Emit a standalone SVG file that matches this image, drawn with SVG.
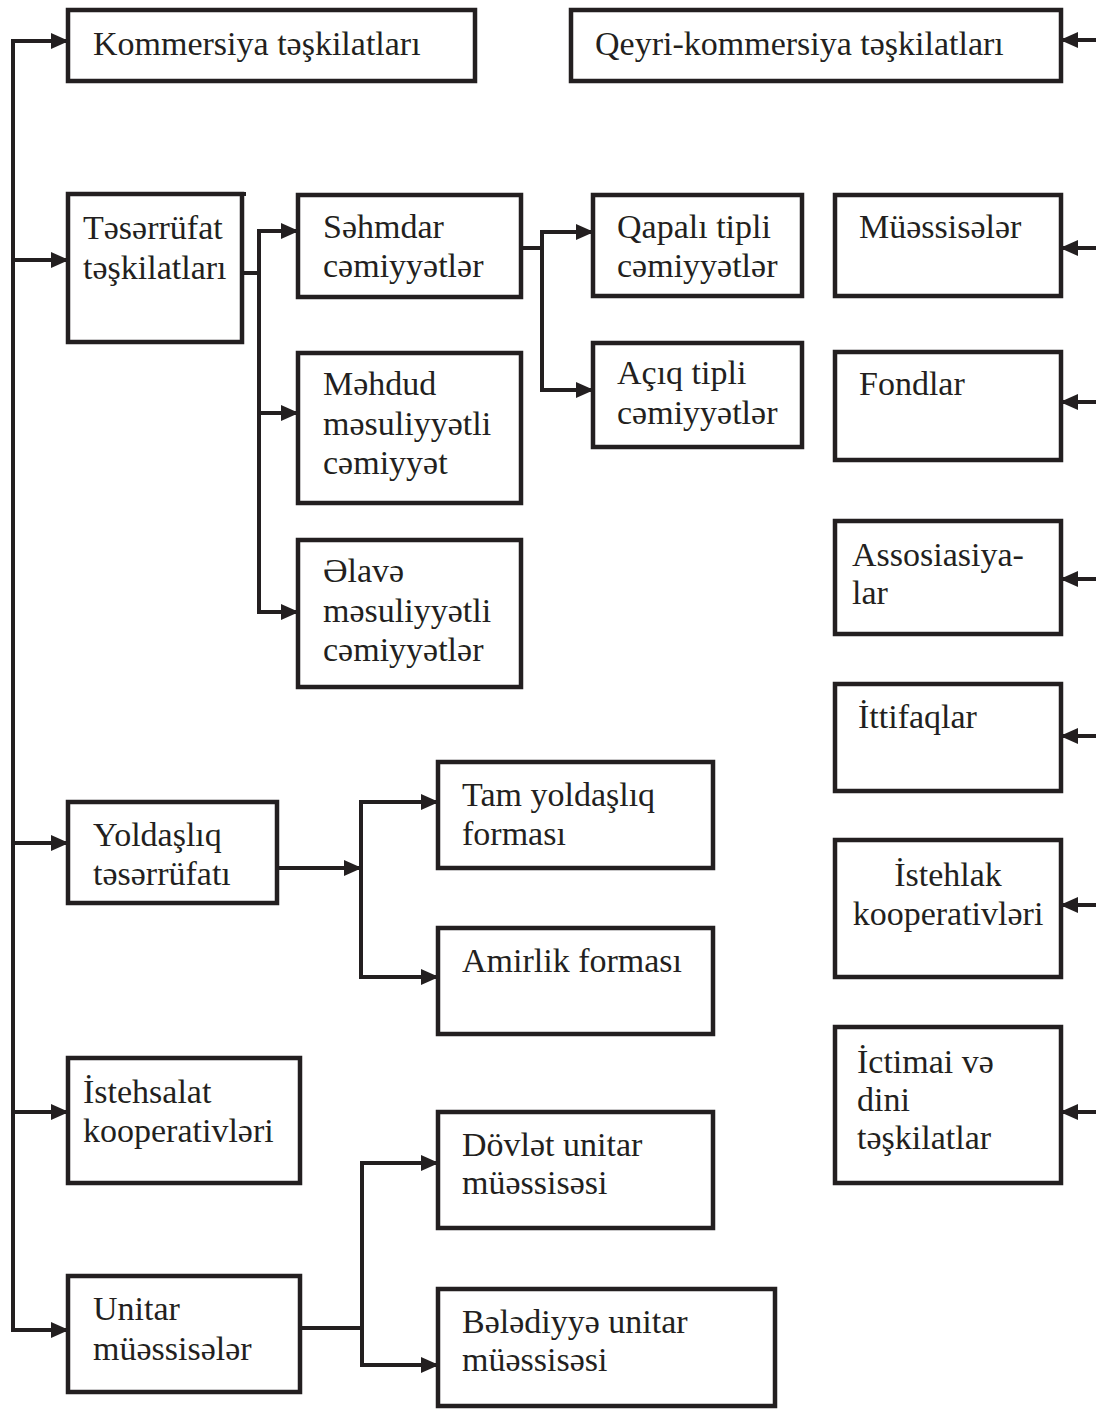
<svg xmlns="http://www.w3.org/2000/svg" width="1096" height="1409" viewBox="0 0 1096 1409">
<defs>
<style>
.box{fill:#fff;stroke:#231f20;stroke-width:4.5}
.ln{fill:none;stroke:#231f20;stroke-width:4}
.t{font-family:"Liberation Serif","Times New Roman",serif;font-size:34px;fill:#231f20}
.c{text-anchor:middle}
</style>
<marker id="ah" markerUnits="userSpaceOnUse" markerWidth="18" markerHeight="16" refX="17" refY="8" orient="auto" viewBox="0 0 18 16">
<path d="M0,0 L18,8 L0,16 z" fill="#231f20"/>
</marker>
</defs>
<rect width="1096" height="1409" fill="#fff"/>
<g id="connectors">
<path class="ln" d="M13,41 V1330"/>
<path class="ln" d="M11,41 H68" marker-end="url(#ah)"/>
<path class="ln" d="M13,260 H68" marker-end="url(#ah)"/>
<path class="ln" d="M13,843 H68" marker-end="url(#ah)"/>
<path class="ln" d="M13,1112 H68" marker-end="url(#ah)"/>
<path class="ln" d="M11,1330 H68" marker-end="url(#ah)"/>
<path class="ln" d="M242,273 H259"/>
<path class="ln" d="M259,231 V612"/>
<path class="ln" d="M257,231 H298" marker-end="url(#ah)"/>
<path class="ln" d="M259,413 H298" marker-end="url(#ah)"/>
<path class="ln" d="M257,612 H298" marker-end="url(#ah)"/>
<path class="ln" d="M521,248 H542"/>
<path class="ln" d="M542,232 V390"/>
<path class="ln" d="M540,232 H593" marker-end="url(#ah)"/>
<path class="ln" d="M540,390 H593" marker-end="url(#ah)"/>
<path class="ln" d="M277,868 H361" marker-end="url(#ah)"/>
<path class="ln" d="M361,802 V977"/>
<path class="ln" d="M359,802 H438" marker-end="url(#ah)"/>
<path class="ln" d="M359,977 H438" marker-end="url(#ah)"/>
<path class="ln" d="M300,1328 H362"/>
<path class="ln" d="M362,1163 V1365"/>
<path class="ln" d="M360,1163 H438" marker-end="url(#ah)"/>
<path class="ln" d="M360,1365 H438" marker-end="url(#ah)"/>
<path class="ln" d="M1096,40 H1061" marker-end="url(#ah)"/>
<path class="ln" d="M1096,248 H1061" marker-end="url(#ah)"/>
<path class="ln" d="M1096,402 H1061" marker-end="url(#ah)"/>
<path class="ln" d="M1096,579 H1061" marker-end="url(#ah)"/>
<path class="ln" d="M1096,736 H1061" marker-end="url(#ah)"/>
<path class="ln" d="M1096,905 H1061" marker-end="url(#ah)"/>
<path class="ln" d="M1096,1112 H1061" marker-end="url(#ah)"/>
</g>
<g id="kommersiya"><rect class="box" x="68" y="10" width="407" height="71"/><text class="t" x="93" y="55">Kommersiya təşkilatları</text></g>
<g id="qeyri-kommersiya"><rect class="box" x="571" y="10" width="490" height="71"/><text class="t" x="595" y="55">Qeyri-kommersiya təşkilatları</text></g>
<g id="tesərrufat"><rect class="box" x="68" y="194" width="174" height="148"/><path class="ln" d="M240,194 H246"/><text class="t" x="83" y="239">Təsərrüfat</text><text class="t" x="83" y="279">təşkilatları</text></g>
<g id="sehmdar"><rect class="box" x="298" y="195" width="223" height="102"/><text class="t" x="323" y="238">Səhmdar</text><text class="t" x="323" y="277">cəmiyyətlər</text></g>
<g id="mehdud"><rect class="box" x="298" y="353" width="223" height="150"/><text class="t" x="323" y="395">Məhdud</text><text class="t" x="323" y="435">məsuliyyətli</text><text class="t" x="323" y="474">cəmiyyət</text></g>
<g id="elave"><rect class="box" x="298" y="540" width="223" height="147"/><text class="t" x="323" y="582">Əlavə</text><text class="t" x="323" y="622">məsuliyyətli</text><text class="t" x="323" y="661">cəmiyyətlər</text></g>
<g id="qapali"><rect class="box" x="593" y="195" width="209" height="101"/><text class="t" x="617" y="238">Qapalı tipli</text><text class="t" x="617" y="277">cəmiyyətlər</text></g>
<g id="aciq"><rect class="box" x="593" y="343" width="209" height="104"/><text class="t" x="617" y="384">Açıq tipli</text><text class="t" x="617" y="424">cəmiyyətlər</text></g>
<g id="muessiseler"><rect class="box" x="835" y="195" width="226" height="101"/><text class="t" x="859" y="238">Müəssisələr</text></g>
<g id="fondlar"><rect class="box" x="835" y="352" width="226" height="108"/><text class="t" x="859" y="395">Fondlar</text></g>
<g id="assosiasiyalar"><rect class="box" x="835" y="521" width="226" height="113"/><text class="t" x="852" y="566">Assosiasiya-</text><text class="t" x="852" y="604">lar</text></g>
<g id="ittifaqlar"><rect class="box" x="835" y="684" width="226" height="107"/><text class="t" x="858" y="728">İttifaqlar</text></g>
<g id="istehlak"><rect class="box" x="835" y="840" width="226" height="137"/><text class="t c" x="948" y="886">İstehlak</text><text class="t c" x="948" y="925">kooperativləri</text></g>
<g id="ictimai"><rect class="box" x="835" y="1027" width="226" height="156"/><text class="t" x="857" y="1073">İctimai və</text><text class="t" x="857" y="1111">dini</text><text class="t" x="857" y="1149">təşkilatlar</text></g>
<g id="yoldasliq"><rect class="box" x="68" y="802" width="209" height="101"/><text class="t" x="93" y="846">Yoldaşlıq</text><text class="t" x="93" y="885">təsərrüfatı</text></g>
<g id="tam-yoldasliq"><rect class="box" x="438" y="762" width="275" height="106"/><text class="t" x="462" y="806">Tam yoldaşlıq</text><text class="t" x="462" y="845">forması</text></g>
<g id="amirlik"><rect class="box" x="438" y="928" width="275" height="106"/><text class="t" x="462" y="972">Amirlik forması</text></g>
<g id="istehsalat"><rect class="box" x="68" y="1058" width="232" height="125"/><text class="t" x="83" y="1103">İstehsalat</text><text class="t" x="83" y="1142">kooperativləri</text></g>
<g id="unitar"><rect class="box" x="68" y="1276" width="232" height="116"/><text class="t" x="93" y="1320">Unitar</text><text class="t" x="93" y="1360">müəssisələr</text></g>
<g id="dovlet"><rect class="box" x="438" y="1112" width="275" height="116"/><text class="t" x="462" y="1156">Dövlət unitar</text><text class="t" x="462" y="1194">müəssisəsi</text></g>
<g id="beladiyye"><rect class="box" x="438" y="1289" width="337" height="117"/><text class="t" x="462" y="1333">Bələdiyyə unitar</text><text class="t" x="462" y="1371">müəssisəsi</text></g>
</svg>
